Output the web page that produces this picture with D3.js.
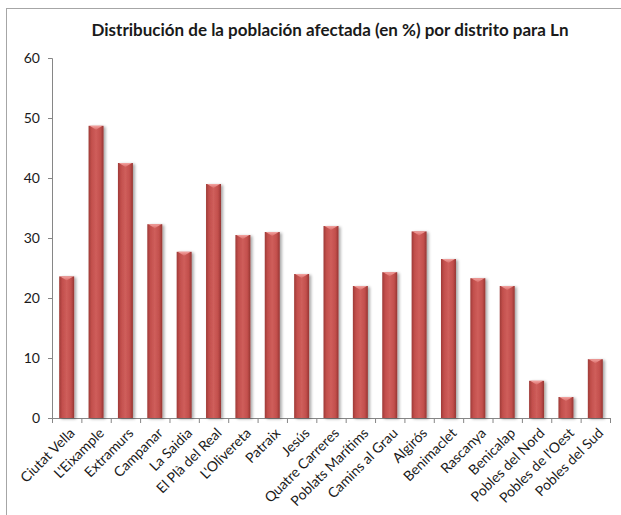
<!DOCTYPE html>
<html><head><meta charset="utf-8">
<script src="https://cdn.jsdelivr.net/npm/d3@7"></script>
<style>body{margin:0;background:#fff;}svg{display:block;}</style>
</head><body>
<svg id="c" width="621" height="515"></svg>
<script>
const categories = ["Ciutat Vella","L'Eixample","Extramurs","Campanar","La Saidia","El Plà del Real","L'Olivereta","Patraix","Jesús","Quatre Carreres","Poblats Marítims","Camins al Grau","Algirós","Benimaclet","Rascanya","Benicalap","Pobles del Nord","Pobles de l'Oest","Pobles del Sud"];
const values = [23.6,48.7,42.5,32.3,27.7,39.0,30.5,31.0,24.0,32.0,22.0,24.3,31.1,26.5,23.3,22.0,6.2,3.5,9.8];
const yTicks = [0,10,20,30,40,50,60];
const title = "Distribución de la población afectada (en %) por distrito para Ln";

const svg = d3.select("#c");
const font = "Lato, 'Open Sans', sans-serif";
const defs = svg.append("defs");
const g1 = defs.append("linearGradient").attr("id","bar").attr("x1","0").attr("x2","1").attr("y1","0").attr("y2","0");
g1.append("stop").attr("offset","0").attr("stop-color","#9e3a37");
g1.append("stop").attr("offset","0.2").attr("stop-color","#c24f4c");
g1.append("stop").attr("offset","0.5").attr("stop-color","#cf5e5b");
g1.append("stop").attr("offset","0.8").attr("stop-color","#c24f4c");
g1.append("stop").attr("offset","1").attr("stop-color","#963532");
const g2 = defs.append("linearGradient").attr("id","cap").attr("x1","0").attr("x2","0").attr("y1","0").attr("y2","1");
g2.append("stop").attr("offset","0").attr("stop-color","#f3a4a1");
g2.append("stop").attr("offset","1").attr("stop-color","#d86a67");
const flt = defs.append("filter").attr("id","sh").attr("x","-50%").attr("y","-10%").attr("width","200%").attr("height","130%");
flt.append("feGaussianBlur").attr("in","SourceAlpha").attr("stdDeviation","1.5");
flt.append("feOffset").attr("dx","1.5").attr("dy","1").attr("result","b");
flt.append("feComponentTransfer").append("feFuncA").attr("type","linear").attr("slope","0.35");
const fm = flt.append("feMerge"); fm.append("feMergeNode"); fm.append("feMergeNode").attr("in","SourceGraphic");

// frame
svg.append("line").attr("x1",6).attr("x2",621).attr("y1",8.5).attr("y2",8.5).attr("stroke","#a6a6a6").attr("stroke-width",1);
svg.append("line").attr("x1",6.5).attr("x2",6.5).attr("y1",8).attr("y2",515).attr("stroke","#a6a6a6").attr("stroke-width",1);

const x0 = 52, x1 = 610, yTop = 58, yBot = 418;
const x = d3.scaleBand().domain(categories).range([x0, x1]).paddingInner(0.49).paddingOuter(0.245);
const y = d3.scaleLinear().domain([0,60]).range([yBot, yTop]);

svg.append("text").attr("x",330).attr("y",36).attr("text-anchor","middle")
  .attr("font-family",font).attr("font-weight","bold").attr("font-size",17).attr("fill","#1a1a1a").text(title);

// y axis
const ya = svg.append("g").attr("transform",`translate(${x0},0)`)
  .call(d3.axisLeft(y).tickValues(yTicks).tickSize(4).tickPadding(8));
ya.select(".domain").attr("stroke","#868686");
ya.selectAll(".tick line").attr("stroke","#868686");
ya.selectAll("text").attr("font-family",font).attr("font-size",14).attr("fill","#1a1a1a");

// x axis
const step = x.step();
const xa = svg.append("g").attr("transform",`translate(0,${yBot})`);
xa.append("line").attr("x1",x0).attr("x2",x1).attr("y1",0.5).attr("y2",0.5).attr("stroke","#868686");
xa.selectAll("line.t").data(d3.range(categories.length+1)).join("line").attr("class","t")
  .attr("x1",i=>x0+i*step+0.5).attr("x2",i=>x0+i*step+0.5).attr("y1",0).attr("y2",5).attr("stroke","#868686");
xa.selectAll("text").data(categories).join("text")
  .attr("transform",d=>`translate(${x(d)+x.bandwidth()/2+9},${16}) rotate(-45)`)
  .attr("text-anchor","end").attr("font-family",font).attr("font-size",14).attr("fill","#1a1a1a").text(d=>d);

// bars
const bars = svg.append("g").selectAll("g").data(categories).join("g").attr("filter","url(#sh)");
bars.append("rect").attr("x",d=>x(d)).attr("width",x.bandwidth())
  .attr("y",(d,i)=>y(values[i])).attr("height",(d,i)=>yBot-y(values[i])).attr("fill","url(#bar)");
bars.append("path").attr("d",(d,i)=>{
  const l=x(d), w=x.bandwidth(), t=y(values[i]);
  return `M${l+1},${t} L${l+w-1},${t} L${l+w/2},${t+4} Z`;
}).attr("fill","url(#cap)");
</script>
</body></html>
